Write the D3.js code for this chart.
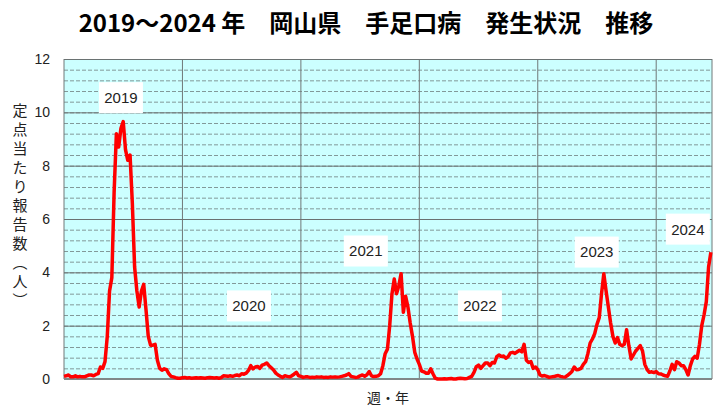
<!DOCTYPE html>
<html>
<head>
<meta charset="utf-8">
<script src="https://cdn.jsdelivr.net/npm/d3@7"></script>
<style>
  body { margin: 0; background: #fff; }
  svg { display: block; }
</style>
</head>
<body>
<div id="chart"></div>
<script>
// weekly reports per sentinel site, Okayama, hand-foot-mouth disease
const years = ['2019', '2020', '2021', '2022', '2023', '2024'];

const v2019 = [0.1, 0.12, 0.15, 0.08, 0.08, 0.12, 0.08, 0.1, 0.08, 0.08, 0.12, 0.15, 0.15, 0.12, 0.17, 0.2,
  0.45, 0.4, 0.65, 1.6, 3.3, 3.8, 7.0, 9.2, 8.7, 9.4, 9.65, 8.6, 8.2, 8.4, 6.6, 4.2, 3.3, 2.7, 3.3, 3.55,
  2.6, 1.6, 1.27, 1.27, 1.3, 0.7, 0.4, 0.33, 0.38, 0.35, 0.2, 0.1, 0.08, 0.05, 0.03, 0.03];
const v2020 = [0.05, 0.06, 0.04, 0.05, 0.03, 0.04, 0.05, 0.04, 0.05, 0.04, 0.03, 0.05, 0.06, 0.05, 0.04, 0.05,
  0.03, 0.05, 0.12, 0.11, 0.1, 0.12, 0.1, 0.13, 0.15, 0.12, 0.2, 0.18, 0.22, 0.32, 0.5, 0.38, 0.45, 0.47,
  0.4, 0.52, 0.55, 0.6, 0.5, 0.42, 0.34, 0.22, 0.15, 0.1, 0.06, 0.12, 0.1, 0.08, 0.12, 0.18, 0.25, 0.12];
const v2021 = [0.1, 0.06, 0.08, 0.08, 0.06, 0.07, 0.06, 0.08, 0.07, 0.08, 0.06, 0.07, 0.06, 0.08, 0.07, 0.08,
  0.07, 0.08, 0.1, 0.12, 0.15, 0.2, 0.1, 0.08, 0.06, 0.07, 0.12, 0.15, 0.1, 0.16, 0.28, 0.12, 0.09, 0.1,
  0.12, 0.2, 0.5, 0.95, 1.12, 2.0, 3.2, 3.75, 3.2, 3.5, 3.95, 2.5, 3.1, 2.7, 2.1, 1.6, 1.0, 0.75];
const v2022 = [0.55, 0.3, 0.27, 0.22, 0.22, 0.38, 0.2, 0.03, 0.0, 0.0, 0.0, 0.01, 0.0, 0.01, 0.02, 0.0,
  0.0, 0.02, 0.03, 0.02, 0.01, 0.02, 0.06, 0.1, 0.25, 0.46, 0.52, 0.4, 0.5, 0.6, 0.6, 0.5, 0.62, 0.6,
  0.84, 0.9, 0.84, 0.86, 0.78, 0.84, 0.98, 1.0, 0.96, 1.02, 1.08, 1.02, 1.3, 0.7, 0.62, 0.65, 0.4, 0.45];
const v2023 = [0.35, 0.15, 0.11, 0.13, 0.1, 0.06, 0.08, 0.09, 0.11, 0.13, 0.1, 0.08, 0.07, 0.13, 0.2, 0.28,
  0.45, 0.35, 0.36, 0.4, 0.55, 0.65, 0.95, 1.35, 1.5, 1.7, 2.05, 2.3, 3.2, 3.95, 3.3, 2.7, 2.1, 1.6,
  1.35, 1.55, 1.3, 1.25, 1.3, 1.85, 1.25, 0.75, 0.9, 1.05, 1.15, 1.25, 1.05, 0.55, 0.35, 0.25, 0.27, 0.24];
const v2024 = [0.28, 0.2, 0.19, 0.15, 0.12, 0.1, 0.3, 0.55, 0.35, 0.65, 0.6, 0.5, 0.5, 0.35, 0.15, 0.5,
  0.75, 0.85, 0.78, 1.3, 2.0, 2.4, 2.9, 4.2, 4.75];

const yearValues = [v2019, v2020, v2021, v2022, v2023, v2024];
const yTicks = [0, 2, 4, 6, 8, 10, 12];

const title = '2019～2024 年　岡山県　手足口病　発生状況　推移';
const yTitle = '定点当たり報告数（人）';
const xTitle = '週・年';

// year label boxes: [week within year, value]
const labelAt = [[25, 10.55], [29.2, 2.74], [28.5, 4.8], [26.6, 2.74], [25.9, 4.76], [13.9, 5.62]];

const width = 718;
const height = 416;
const weeksPerYear = 52;
const margin = { top: 59, right: 6, bottom: 37, left: 64 };

const series = [];
yearValues.forEach((vals, i) => {
  vals.forEach((v, w) => series.push({ t: i * weeksPerYear + w, v: v }));
});

const x = d3.scaleLinear()
  .domain([0, 284.5])
  .range([margin.left, width - margin.right]);

const y = d3.scaleLinear()
  .domain([0, 12])
  .range([height - margin.bottom, margin.top]);

const svg = d3.select('#chart')
  .append('svg')
  .attr('width', width)
  .attr('height', height);

svg.append('rect')
  .attr('x', x.range()[0])
  .attr('y', y.range()[1])
  .attr('width', x.range()[1] - x.range()[0])
  .attr('height', y.range()[0] - y.range()[1])
  .attr('fill', '#ccffff');

// minor dashed grid
svg.append('g')
  .attr('transform', `translate(${margin.left},0)`)
  .call(d3.axisLeft(y).tickValues(d3.range(0.4, 12, 0.4)).tickSize(-(x.range()[1] - x.range()[0])).tickFormat(''))
  .call(g => g.select('.domain').remove())
  .call(g => g.selectAll('line')
    .attr('stroke', '#6f7f7f')
    .attr('stroke-width', 0.8)
    .attr('stroke-dasharray', '4,2'));

// year separators
svg.append('g')
  .selectAll('line')
  .data(d3.range(0, years.length + 1))
  .join('line')
  .attr('x1', d => Math.min(x(d * weeksPerYear), x.range()[1]))
  .attr('x2', d => Math.min(x(d * weeksPerYear), x.range()[1]))
  .attr('y1', y.range()[0])
  .attr('y2', y.range()[1])
  .attr('stroke', '#707878')
  .attr('stroke-width', 1);

// major grid + labels
svg.append('g')
  .attr('transform', `translate(${margin.left},0)`)
  .call(d3.axisLeft(y).tickValues(yTicks).tickSize(-(x.range()[1] - x.range()[0])).tickPadding(14))
  .call(g => g.select('.domain').remove())
  .call(g => g.selectAll('line').attr('stroke', '#6a7272').attr('stroke-width', 1))
  .call(g => g.selectAll('text')
    .attr('fill', '#222')
    .attr('font-family', 'Liberation Sans, Arial, sans-serif')
    .attr('font-size', 14));

svg.append('line')
  .attr('x1', x.range()[0])
  .attr('x2', x.range()[1])
  .attr('y1', y(0))
  .attr('y2', y(0))
  .attr('stroke', '#808888')
  .attr('stroke-width', 2);

const line = d3.line()
  .x(d => x(d.t))
  .y(d => y(d.v));

svg.append('path')
  .datum(series)
  .attr('d', line)
  .attr('fill', 'none')
  .attr('stroke', '#ff0000')
  .attr('stroke-width', 3.5)
  .attr('stroke-linejoin', 'round');

// year labels
const labels = svg.append('g')
  .selectAll('g')
  .data(years)
  .join('g')
  .attr('transform', (d, i) => `translate(${x(i * weeksPerYear + labelAt[i][0])},${y(labelAt[i][1])})`);

labels.append('rect')
  .attr('x', -22)
  .attr('y', -15.5)
  .attr('width', 44)
  .attr('height', 31)
  .attr('fill', '#fff');

labels.append('text')
  .attr('text-anchor', 'middle')
  .attr('dy', '0.36em')
  .attr('font-family', 'Liberation Sans, Arial, sans-serif')
  .attr('font-size', 15)
  .attr('fill', '#222')
  .text(d => d);

svg.append('text')
  .attr('x', 366)
  .attr('y', 32)
  .attr('text-anchor', 'middle')
  .attr('font-family', 'Noto Sans CJK JP, sans-serif')
  .attr('font-weight', 'bold')
  .attr('font-size', 24)
  .attr('fill', '#000')
  .text(title);

svg.append('text')
  .attr('x', 20)
  .attr('y', 103)
  .style('writing-mode', 'vertical-rl')
  .style('letter-spacing', '4px')
  .attr('font-family', 'Noto Sans CJK JP, sans-serif')
  .attr('font-size', 15)
  .attr('fill', '#222')
  .text(yTitle);

svg.append('text')
  .attr('x', (x.range()[0] + x.range()[1]) / 2)
  .attr('y', 403)
  .attr('text-anchor', 'middle')
  .attr('font-family', 'Noto Sans CJK JP, sans-serif')
  .attr('font-size', 14)
  .attr('fill', '#222')
  .text(xTitle);
</script>
</body>
</html>
